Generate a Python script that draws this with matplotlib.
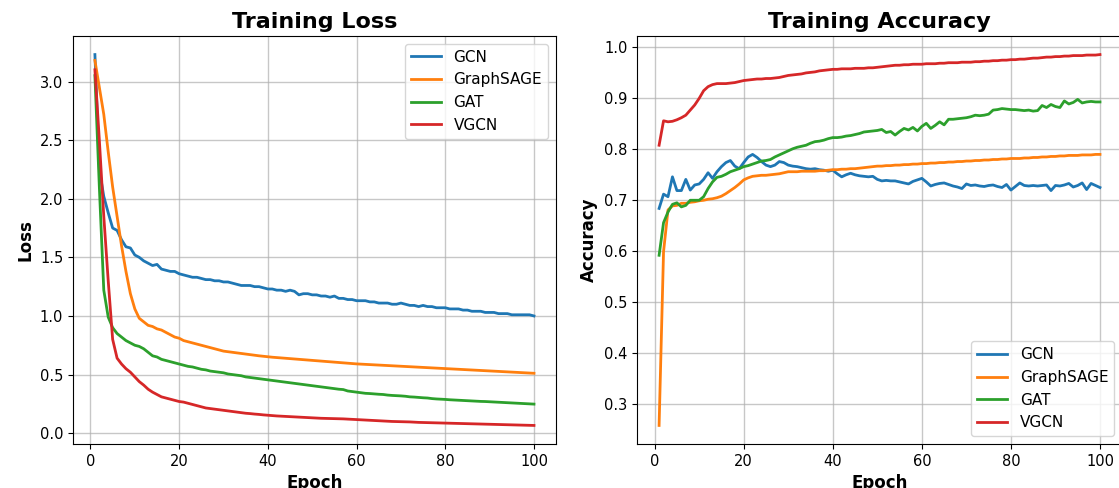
import numpy as np
import matplotlib
matplotlib.use("Agg")
import matplotlib.pyplot as plt

# Values
epochs = np.arange(1, 101)
models = ["GCN", "GraphSAGE", "GAT", "VGCN"]

loss_gcn = [3.23, 2.25, 2.02, 1.88, 1.75, 1.73, 1.65, 1.59, 1.58, 1.52,
            1.50, 1.47, 1.45, 1.43, 1.44, 1.40, 1.39, 1.38, 1.38, 1.36,
            1.35, 1.34, 1.33, 1.33, 1.32, 1.31, 1.31, 1.30, 1.30, 1.29,
            1.29, 1.28, 1.27, 1.26, 1.26, 1.26, 1.25, 1.25, 1.24, 1.23,
            1.23, 1.22, 1.22, 1.21, 1.22, 1.21, 1.18, 1.19, 1.19, 1.18,
            1.18, 1.17, 1.17, 1.16, 1.17, 1.15, 1.15, 1.14, 1.14, 1.13,
            1.13, 1.13, 1.12, 1.12, 1.11, 1.11, 1.11, 1.10, 1.10, 1.11,
            1.10, 1.09, 1.09, 1.08, 1.09, 1.08, 1.08, 1.07, 1.07, 1.07,
            1.06, 1.06, 1.06, 1.05, 1.05, 1.04, 1.04, 1.04, 1.03, 1.03,
            1.03, 1.02, 1.02, 1.02, 1.01, 1.01, 1.01, 1.01, 1.01, 1.00]
loss_sage = [3.18, 2.95, 2.72, 2.40, 2.10, 1.85, 1.60, 1.38, 1.19, 1.06,
             0.98, 0.95, 0.92, 0.91, 0.89, 0.88, 0.86, 0.84, 0.82, 0.81,
             0.79, 0.78, 0.77, 0.76, 0.75, 0.74, 0.73, 0.72, 0.71, 0.70,
             0.695, 0.69, 0.685, 0.68, 0.675, 0.67, 0.665, 0.66, 0.656, 0.652,
             0.648, 0.645, 0.642, 0.639, 0.636, 0.633, 0.630, 0.627, 0.624, 0.621,
             0.618, 0.615, 0.612, 0.609, 0.606, 0.603, 0.600, 0.597, 0.594, 0.591,
             0.589, 0.587, 0.585, 0.583, 0.581, 0.579, 0.577, 0.575, 0.573, 0.571,
             0.569, 0.567, 0.565, 0.563, 0.561, 0.559, 0.557, 0.555, 0.553, 0.551,
             0.549, 0.547, 0.545, 0.543, 0.541, 0.539, 0.537, 0.535, 0.533, 0.531,
             0.529, 0.527, 0.525, 0.523, 0.521, 0.519, 0.517, 0.515, 0.513, 0.511]
loss_gat = [3.05, 2.10, 1.22, 0.99, 0.90, 0.85, 0.82, 0.79, 0.77, 0.75,
            0.74, 0.72, 0.69, 0.66, 0.65, 0.63, 0.62, 0.61, 0.60, 0.59,
            0.58, 0.57, 0.565, 0.555, 0.545, 0.54, 0.53, 0.525, 0.52, 0.515,
            0.505, 0.50, 0.495, 0.49, 0.48, 0.475, 0.47, 0.465, 0.46, 0.455,
            0.45, 0.445, 0.44, 0.435, 0.43, 0.425, 0.42, 0.415, 0.41, 0.405,
            0.40, 0.395, 0.39, 0.385, 0.38, 0.375, 0.372, 0.36, 0.355, 0.35,
            0.345, 0.34, 0.338, 0.335, 0.332, 0.33, 0.325, 0.322, 0.32, 0.318,
            0.315, 0.31, 0.308, 0.305, 0.302, 0.30, 0.295, 0.292, 0.29, 0.288,
            0.285, 0.283, 0.281, 0.279, 0.277, 0.275, 0.273, 0.271, 0.27, 0.268,
            0.266, 0.264, 0.262, 0.26, 0.258, 0.256, 0.254, 0.252, 0.25, 0.248]
loss_vgcn = [3.10, 2.50, 1.85, 1.30, 0.80, 0.64, 0.59, 0.55, 0.52, 0.48,
             0.44, 0.41, 0.375, 0.35, 0.33, 0.31, 0.30, 0.29, 0.28, 0.27,
             0.265, 0.255, 0.245, 0.235, 0.225, 0.215, 0.21, 0.205, 0.20, 0.195,
             0.19, 0.185, 0.18, 0.175, 0.17, 0.167, 0.163, 0.16, 0.156, 0.153,
             0.15, 0.147, 0.145, 0.143, 0.141, 0.139, 0.137, 0.135, 0.133, 0.131,
             0.129, 0.127, 0.126, 0.125, 0.124, 0.123, 0.122, 0.12, 0.118, 0.116,
             0.114, 0.112, 0.11, 0.108, 0.106, 0.104, 0.102, 0.10, 0.099, 0.098,
             0.097, 0.096, 0.094, 0.092, 0.091, 0.09, 0.089, 0.088, 0.087, 0.086,
             0.085, 0.084, 0.083, 0.082, 0.081, 0.08, 0.079, 0.078, 0.077, 0.076,
             0.075, 0.074, 0.073, 0.072, 0.071, 0.07, 0.069, 0.068, 0.067, 0.066]

acc_gcn = [0.684, 0.712, 0.707, 0.746, 0.719, 0.719, 0.741, 0.720, 0.730, 0.732,
           0.741, 0.754, 0.743, 0.756, 0.766, 0.774, 0.778, 0.767, 0.762, 0.774,
           0.785, 0.790, 0.784, 0.776, 0.769, 0.766, 0.769, 0.776, 0.774, 0.769,
           0.767, 0.766, 0.764, 0.762, 0.761, 0.762, 0.760, 0.759, 0.757, 0.759,
           0.752, 0.746, 0.750, 0.753, 0.750, 0.748, 0.747, 0.746, 0.747, 0.741,
           0.738, 0.739, 0.738, 0.738, 0.736, 0.734, 0.732, 0.737, 0.740, 0.743,
           0.736, 0.728, 0.731, 0.733, 0.734, 0.731, 0.728, 0.726, 0.723, 0.732,
           0.729, 0.730, 0.728, 0.727, 0.729, 0.730, 0.727, 0.725, 0.731, 0.720,
           0.727, 0.734, 0.729, 0.728, 0.729, 0.728, 0.729, 0.730, 0.719, 0.729,
           0.728, 0.730, 0.733, 0.726, 0.729, 0.734, 0.721, 0.733, 0.729, 0.725]
acc_sage = [0.258, 0.599, 0.681, 0.689, 0.690, 0.694, 0.694, 0.696, 0.697, 0.699,
            0.700, 0.702, 0.703, 0.705, 0.708, 0.713, 0.719, 0.725, 0.732, 0.740,
            0.744, 0.747, 0.748, 0.749, 0.749, 0.750, 0.751, 0.752, 0.754, 0.756,
            0.756, 0.756, 0.757, 0.757, 0.757, 0.757, 0.758, 0.758, 0.759, 0.760,
            0.760, 0.761, 0.761, 0.762, 0.762, 0.763, 0.764, 0.765, 0.766, 0.767,
            0.767, 0.768, 0.768, 0.769, 0.769, 0.770, 0.770, 0.771, 0.771, 0.772,
            0.772, 0.773, 0.773, 0.774, 0.774, 0.775, 0.775, 0.776, 0.776, 0.777,
            0.777, 0.778, 0.778, 0.779, 0.779, 0.780, 0.780, 0.781, 0.781, 0.782,
            0.782, 0.782, 0.783, 0.783, 0.784, 0.784, 0.785, 0.785, 0.786, 0.786,
            0.787, 0.787, 0.788, 0.788, 0.788, 0.789, 0.789, 0.789, 0.790, 0.790]
acc_gat = [0.592, 0.656, 0.677, 0.692, 0.695, 0.687, 0.690, 0.700, 0.700, 0.700,
           0.707, 0.723, 0.736, 0.745, 0.747, 0.751, 0.756, 0.759, 0.762, 0.766,
           0.768, 0.771, 0.774, 0.777, 0.778, 0.780, 0.785, 0.789, 0.793, 0.797,
           0.801, 0.804, 0.806, 0.808, 0.812, 0.815, 0.816, 0.818, 0.821, 0.823,
           0.823, 0.824, 0.826, 0.827, 0.829, 0.831, 0.834, 0.835, 0.836, 0.837,
           0.839, 0.833, 0.835, 0.828, 0.835, 0.841, 0.838, 0.843, 0.836, 0.845,
           0.851, 0.841, 0.847, 0.854, 0.848, 0.859, 0.859, 0.860, 0.861, 0.862,
           0.864, 0.867, 0.866, 0.867, 0.869, 0.877, 0.878, 0.880, 0.879, 0.878,
           0.878, 0.877, 0.876, 0.877, 0.875, 0.876, 0.886, 0.882, 0.888, 0.884,
           0.882, 0.895, 0.889, 0.892, 0.898, 0.891, 0.893, 0.894, 0.893, 0.893]
acc_vgcn = [0.808, 0.856, 0.854, 0.855, 0.858, 0.862, 0.867, 0.877, 0.887, 0.900,
            0.915, 0.923, 0.927, 0.929, 0.929, 0.929, 0.930, 0.931, 0.933, 0.935,
            0.936, 0.937, 0.938, 0.938, 0.939, 0.939, 0.940, 0.941, 0.943, 0.945,
            0.946, 0.947, 0.948, 0.950, 0.951, 0.952, 0.954, 0.955, 0.956, 0.957,
            0.957, 0.958, 0.958, 0.958, 0.959, 0.959, 0.959, 0.960, 0.960, 0.961,
            0.962, 0.963, 0.964, 0.965, 0.965, 0.966, 0.966, 0.967, 0.967, 0.967,
            0.968, 0.968, 0.968, 0.969, 0.969, 0.970, 0.970, 0.970, 0.971, 0.971,
            0.971, 0.972, 0.972, 0.973, 0.973, 0.974, 0.974, 0.975, 0.975, 0.976,
            0.976, 0.977, 0.977, 0.978, 0.979, 0.979, 0.980, 0.981, 0.981, 0.982,
            0.982, 0.983, 0.983, 0.984, 0.984, 0.984, 0.985, 0.985, 0.985, 0.986]

losses = [loss_gcn, loss_sage, loss_gat, loss_vgcn]
accs = [acc_gcn, acc_sage, acc_gat, acc_vgcn]

fig = plt.figure(figsize=(11.19, 4.88), dpi=100)
ax1 = fig.add_axes([0.0652, 0.0902, 0.4316, 0.836])
ax2 = fig.add_axes([0.5693, 0.0902, 0.4334, 0.836])

for name, vals in zip(models, losses):
    ax1.plot(epochs, vals, linewidth=2, label=name)
for name, vals in zip(models, accs):
    ax2.plot(epochs, vals, linewidth=2, label=name)

ax1.set_title("Training Loss", fontsize=16, fontweight="bold")
ax1.set_xlabel("Epoch", fontsize=12, fontweight="bold")
ax1.set_ylabel("Loss", fontsize=12, fontweight="bold")
ax1.legend(loc="upper right", fontsize=11)

ax2.set_title("Training Accuracy", fontsize=16, fontweight="bold")
ax2.set_xlabel("Epoch", fontsize=12, fontweight="bold")
ax2.set_ylabel("Accuracy", fontsize=12, fontweight="bold")
ax2.legend(loc="lower right", fontsize=11)

for ax in (ax1, ax2):
    ax.grid(True, linewidth=1, alpha=0.7)
    ax.tick_params(labelsize=10.5)

plt.savefig("out.png", dpi=100)
